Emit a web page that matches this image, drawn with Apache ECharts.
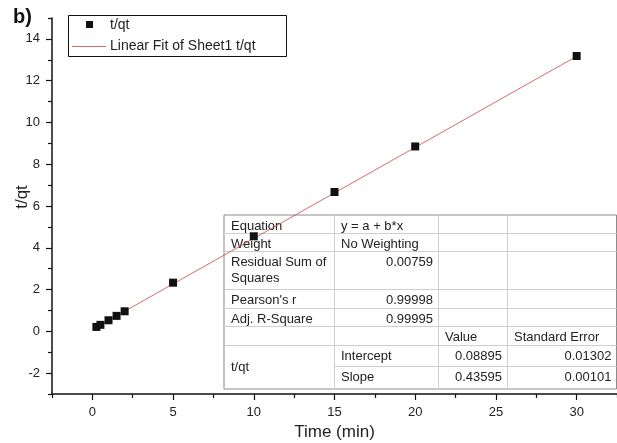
<!DOCTYPE html>
<html>
<head>
<meta charset="utf-8">
<script src="https://cdn.jsdelivr.net/npm/echarts@6/dist/echarts.min.js"></script>
<style>
  html, body { margin: 0; padding: 0; background: #fff; }
  #chart { width: 617px; height: 443px; }
</style>
</head>
<body>
<div id="chart"></div>
<script>
// Measured t/qt against time
const timeMin = [0.25, 0.5, 1, 1.5, 2, 5, 10, 15, 20, 30];
const tOverQt = [0.21, 0.31, 0.53, 0.74, 0.96, 2.33, 4.55, 6.67, 8.85, 13.18];

// Linear fit y = a + b*x
const fitIntercept = 0.08895;
const fitSlope = 0.43595;

// Axis ticks
const xMajorTicks = [0, 5, 10, 15, 20, 25, 30];
const xMinorTicks = [-2.5, 2.5, 7.5, 12.5, 17.5, 22.5, 27.5, 32.5];
const yMajorTicks = [-2, 0, 2, 4, 6, 8, 10, 12, 14];
const yMinorTicks = [-3, -1, 1, 3, 5, 7, 9, 11, 13, 15];

const seriesName = 't/qt';
const fitName = 'Linear Fit of Sheet1 t/qt';

// Fit report table (null = merged with the cell above)
const fitTableRows = [
  ['Equation', 'y = a + b*x', '', ''],
  ['Weight', 'No Weighting', '', ''],
  ['Residual Sum of\nSquares', '0.00759', '', ''],
  ["Pearson's r", '0.99998', '', ''],
  ['Adj. R-Square', '0.99995', '', ''],
  ['', '', 'Value', 'Standard Error'],
  ['t/qt', 'Intercept', '0.08895', '0.01302'],
  [null, 'Slope', '0.43595', '0.00101']
];

const FONT = "'Liberation Sans', Arial, sans-serif";
const FIT_COLOR = '#c84646';
const chart = echarts.init(document.getElementById('chart'));

// Fit line spans the measured time range
const fitX = [timeMin[0], timeMin[timeMin.length - 1]];
const fitData = fitX.map(x => [x, fitIntercept + fitSlope * x]);
const pointData = timeMin.map((t, i) => [t, tOverQt[i]]);

// Table layout
const rowEdges = [215, 233, 251, 289, 308, 326, 345, 366, 389];
const colEdges = [224, 334, 438, 507, 616.5];
const tableEls = [];
tableEls.push({
  type: 'rect', z: 1,
  shape: { x: colEdges[0], y: rowEdges[0], width: colEdges[4] - colEdges[0], height: rowEdges[8] - rowEdges[0] },
  style: { fill: '#fff', stroke: '#8c8c8c', lineWidth: 1 }
});
for (let r = 1; r < rowEdges.length - 1; r++) {
  const mergedBelow = fitTableRows[r] && fitTableRows[r][0] === null;
  tableEls.push({
    type: 'line', z: 1,
    shape: { x1: mergedBelow ? colEdges[1] : colEdges[0], y1: rowEdges[r] + 0.5, x2: colEdges[4], y2: rowEdges[r] + 0.5 },
    style: { stroke: '#cfcfcf', lineWidth: 1 }
  });
}
for (let c = 1; c < colEdges.length - 1; c++) {
  tableEls.push({
    type: 'line', z: 1,
    shape: { x1: colEdges[c] + 0.5, y1: rowEdges[0], x2: colEdges[c] + 0.5, y2: rowEdges[8] },
    style: { stroke: '#cfcfcf', lineWidth: 1 }
  });
}
fitTableRows.forEach((row, r) => {
  row.forEach((txt, c) => {
    if (txt === null || txt === '') return;
    const numeric = /^[0-9.]+$/.test(txt);
    let top = rowEdges[r] + 3;
    let vAlign = 'top';
    if (fitTableRows[r + 1] && fitTableRows[r + 1][c] === null) {
      top = (rowEdges[r] + rowEdges[r + 2]) / 2;
      vAlign = 'middle';
    }
    tableEls.push({
      type: 'text', z: 1,
      x: numeric ? colEdges[c + 1] - 5 : colEdges[c] + 7,
      y: top,
      style: {
        text: txt, fill: '#222', fontSize: 13, fontFamily: FONT,
        lineHeight: 16, align: numeric ? 'right' : 'left', verticalAlign: vAlign
      }
    });
  });
});

// Legend box: square marker for the data, short line for the fit
const legendEls = [
  { type: 'rect', z: 2, shape: { x: 68.5, y: 15.5, width: 218, height: 41 },
    style: { fill: '#fff', stroke: '#111', lineWidth: 1 } },
  { type: 'rect', z: 3, shape: { x: 86, y: 21, width: 7, height: 7 }, style: { fill: '#111' } },
  { type: 'text', z: 3, x: 110, y: 25, style: { text: seriesName, fontSize: 14, fill: '#222', fontFamily: FONT, verticalAlign: 'middle' } },
  { type: 'line', z: 3, shape: { x1: 72, y1: 46.5, x2: 106, y2: 46.5 }, style: { stroke: FIT_COLOR, lineWidth: 0.8 } },
  { type: 'text', z: 3, x: 110, y: 46, style: { text: fitName, fontSize: 14, fill: '#222', fontFamily: FONT, verticalAlign: 'middle' } }
];

const axisColor = '#111';
chart.setOption({
  animation: false,
  backgroundColor: '#fff',
  grid: { left: 52, right: 0, top: 18, bottom: 49, outerBoundsMode: 'none' },
  xAxis: [
    {
      type: 'value', min: -2.5, max: 32.5, position: 'bottom',
      axisLine: { onZero: false, lineStyle: { color: axisColor, width: 1.5 } },
      axisTick: { customValues: xMajorTicks, length: 6, lineStyle: { color: axisColor, width: 1.2 } },
      axisLabel: { customValues: xMajorTicks, fontSize: 13, color: '#222', margin: 12, fontFamily: FONT },
      splitLine: { show: false },
      name: 'Time (min)', nameLocation: 'middle', nameGap: 30,
      nameTextStyle: { fontSize: 17, color: '#222', fontFamily: FONT }
    },
    {
      type: 'value', min: -2.5, max: 32.5, position: 'bottom',
      axisLine: { show: false, onZero: false },
      axisTick: { customValues: xMinorTicks, length: 4, lineStyle: { color: axisColor, width: 1.2 } },
      axisLabel: { show: false },
      splitLine: { show: false }
    }
  ],
  yAxis: [
    {
      type: 'value', min: -3, max: 15, position: 'left',
      axisLine: { show: true, onZero: false, lineStyle: { color: axisColor, width: 1.5 } },
      axisTick: { show: true, customValues: yMajorTicks, length: 6, lineStyle: { color: axisColor, width: 1.2 } },
      axisLabel: { customValues: yMajorTicks, fontSize: 13, color: '#222', margin: 12, fontFamily: FONT },
      splitLine: { show: false }
    },
    {
      type: 'value', min: -3, max: 15, position: 'left',
      axisLine: { show: false, onZero: false },
      axisTick: { show: true, customValues: yMinorTicks, length: 4, lineStyle: { color: axisColor, width: 1.2 } },
      axisLabel: { show: false },
      splitLine: { show: false }
    }
  ],
  graphic: [
    {
      type: 'text', left: 13, top: 7, z: 5,
      style: { text: 'b)', fontSize: 20, fontWeight: 'bold', fill: '#111', fontFamily: FONT }
    },
    {
      type: 'text', x: 22, y: 197, rotation: Math.PI / 2, z: 5,
      style: { text: 't/qt', fontSize: 17, fill: '#222', fontFamily: FONT, align: 'center', verticalAlign: 'middle' }
    },
    ...tableEls,
    ...legendEls
  ],
  series: [
    {
      name: fitName, type: 'line', xAxisIndex: 0, yAxisIndex: 0, zlevel: 1, z: 3,
      data: fitData, showSymbol: false, symbol: 'none',
      lineStyle: { color: FIT_COLOR, width: 0.8 },
      itemStyle: { color: FIT_COLOR }
    },
    {
      name: seriesName, type: 'scatter', xAxisIndex: 0, yAxisIndex: 0, zlevel: 1, z: 4,
      data: pointData, symbol: 'rect', symbolSize: 8,
      itemStyle: { color: '#111', opacity: 1 }
    }
  ]
});
</script>
</body>
</html>
